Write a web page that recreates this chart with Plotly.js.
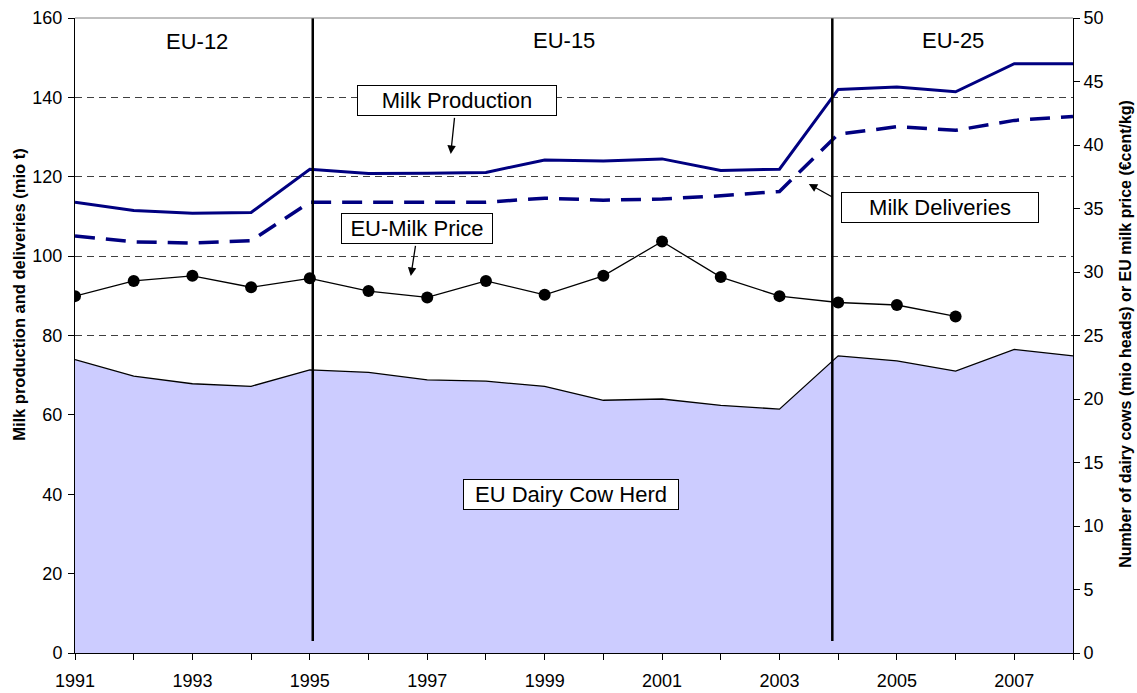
<!DOCTYPE html>
<html>
<head>
<meta charset="utf-8">
<script src="https://cdn.plot.ly/plotly-3.0.1.min.js"></script>
<style>
  html, body { margin: 0; padding: 0; background: #ffffff; }
  #chart { width: 1137px; height: 693px; }
</style>
</head>
<body>
<div id="chart"></div>
<script>
// ---- Data ----
const years = [1991, 1992, 1993, 1994, 1995, 1996, 1997, 1998, 1999, 2000, 2001, 2002, 2003, 2004, 2005, 2006, 2007, 2008];
const milkProduction = [113.6, 111.5, 110.8, 111.0, 121.9, 120.8, 120.9, 121.1, 124.2, 124.0, 124.5, 121.6, 121.9, 142.0, 142.6, 141.4, 148.5, 148.5];
const milkDeliveries = [105.1, 103.6, 103.3, 103.9, 113.6, 113.6, 113.6, 113.6, 114.6, 114.1, 114.4, 115.2, 116.3, 130.7, 132.6, 131.7, 134.2, 135.2];
const priceYears = [1991, 1992, 1993, 1994, 1995, 1996, 1997, 1998, 1999, 2000, 2001, 2002, 2003, 2004, 2005, 2006];
const milkPrice = [28.1, 29.3, 29.7, 28.8, 29.5, 28.5, 28.0, 29.3, 28.2, 29.7, 32.4, 29.6, 28.1, 27.6, 27.4, 26.5];
const dairyHerd = [23.1, 21.8, 21.2, 21.0, 22.3, 22.1, 21.5, 21.4, 21.0, 19.9, 20.0, 19.5, 19.2, 23.4, 23.0, 22.2, 23.9, 23.4];
const xTickLabels = ["1991", "", "1993", "", "1995", "", "1997", "", "1999", "", "2001", "", "2003", "", "2005", "", "2007", ""];
const enlargementYears = [1995.05, 2003.9];
const periodLabels = ["EU-12", "EU-15", "EU-25"];

const FONT = "Liberation Sans, Arial, Helvetica, sans-serif";
const NAVY = "#000080";

const traces = [
  {
    x: years, y: dairyHerd, yaxis: "y2", type: "scatter", mode: "lines",
    fill: "tozeroy", fillcolor: "#ccccff",
    line: { color: "#000000", width: 1.3 },
    name: "EU Dairy Cow Herd"
  },
  {
    x: years, y: milkProduction, type: "scatter", mode: "lines",
    line: { color: NAVY, width: 3 },
    name: "Milk Production"
  },
  {
    x: years, y: milkDeliveries, type: "scatter", mode: "lines",
    line: { color: NAVY, width: 3.5, dash: "20px,11px" },
    name: "Milk Deliveries"
  },
  {
    x: priceYears, y: milkPrice, yaxis: "y2", type: "scatter", mode: "lines+markers",
    line: { color: "#000000", width: 1.3 },
    marker: { color: "#000000", size: 12 },
    name: "EU-Milk Price"
  }
];

const shapes = enlargementYears.map(function (yr) {
  return {
    type: "line", xref: "x", yref: "y", x0: yr, x1: yr, y0: 3, y1: 160,
    line: { color: "#000000", width: 2.5 }, layer: "above"
  };
});
shapes.push({
  type: "line", xref: "paper", yref: "paper", x0: 0, x1: 1, y0: 1, y1: 1,
  line: { color: "#808080", width: 1 }, layer: "above"
});

function box(text, x, y, w, h) {
  return {
    text: text, x: x, y: y, xref: "x", yref: "y",
    showarrow: false, bgcolor: "#ffffff", bordercolor: "#000000", borderwidth: 1,
    borderpad: 0, width: w, height: h, align: "center", valign: "middle",
    font: { family: FONT, size: 22, color: "#000000" }
  };
}
function arrow(x, y, ax, ay) {
  return {
    text: " ", x: x, y: y, xref: "x", yref: "y", ax: ax, ay: ay,
    showarrow: true, arrowhead: 2, arrowsize: 1.3, arrowwidth: 1.3, arrowcolor: "#000000",
    font: { size: 1 }
  };
}
function label(text, x, y) {
  return {
    text: text, x: x, y: y, xref: "x", yref: "y", showarrow: false,
    font: { family: FONT, size: 22, color: "#000000" }
  };
}

const annotations = [
  label(periodLabels[0], 1993.08, 154.2),
  label(periodLabels[1], 1999.33, 154.4),
  label(periodLabels[2], 2005.96, 154.4),
  box("Milk Production", 1997.51, 139.1, 198, 29),
  arrow(1997.40, 125.75, 4, -38),
  box("EU-Milk Price", 1996.83, 106.9, 150, 29),
  arrow(1996.72, 95.0, 5, -32),
  box("Milk Deliveries", 2005.73, 112.2, 196, 29),
  arrow(2003.50, 118.2, 25, 14),
  box("EU Dairy Cow Herd", 1999.45, 39.9, 214, 29),
  {
    text: "<b>Milk production and deliveries (mio t)</b>", textangle: -90,
    xref: "paper", yref: "paper", x: -0.0556, y: 0.5633, showarrow: false,
    xanchor: "center", yanchor: "middle",
    font: { family: FONT, size: 16.5, color: "#000000" }
  },
  {
    text: "<b>Number of dairy cows (mio heads) or EU milk price (€cent/kg)</b>", textangle: -90,
    xref: "paper", yref: "paper", x: 1.0531, y: 0.5028, showarrow: false,
    xanchor: "center", yanchor: "middle",
    font: { family: FONT, size: 16, color: "#000000" }
  }
];

const tickFont = { family: FONT, size: 18, color: "#000000" };

const layout = {
  width: 1137, height: 693,
  margin: { l: 75, r: 64, t: 18, b: 40, pad: 0 },
  paper_bgcolor: "#ffffff", plot_bgcolor: "#ffffff",
  showlegend: false,
  xaxis: {
    range: [1991, 2008], tickmode: "array", tickvals: years, ticktext: xTickLabels,
    ticks: "outside", ticklen: 6, tickwidth: 1, tickcolor: "#000000",
    ticklabelstandoff: 5,
    showline: true, linecolor: "#000000", linewidth: 1,
    showgrid: false, zeroline: false, tickfont: tickFont, fixedrange: true
  },
  yaxis: {
    range: [0, 160], dtick: 20, tick0: 0,
    ticks: "outside", ticklen: 6, tickwidth: 1, tickcolor: "#000000",
    ticklabelstandoff: 2,
    showline: true, linecolor: "#000000", linewidth: 1,
    showgrid: true, gridcolor: "#404040", gridwidth: 1, griddash: "7px,5px",
    zeroline: false, tickfont: tickFont, fixedrange: true
  },
  yaxis2: {
    range: [0, 50], dtick: 5, tick0: 0, overlaying: "y", side: "right",
    ticks: "outside", ticklen: 6, tickwidth: 1, tickcolor: "#000000",
    showline: true, linecolor: "#000000", linewidth: 1,
    showgrid: false, zeroline: false, tickfont: tickFont, fixedrange: true
  },
  shapes: shapes,
  annotations: annotations
};

Plotly.newPlot("chart", traces, layout, { displayModeBar: false, staticPlot: true });
</script>
</body>
</html>
